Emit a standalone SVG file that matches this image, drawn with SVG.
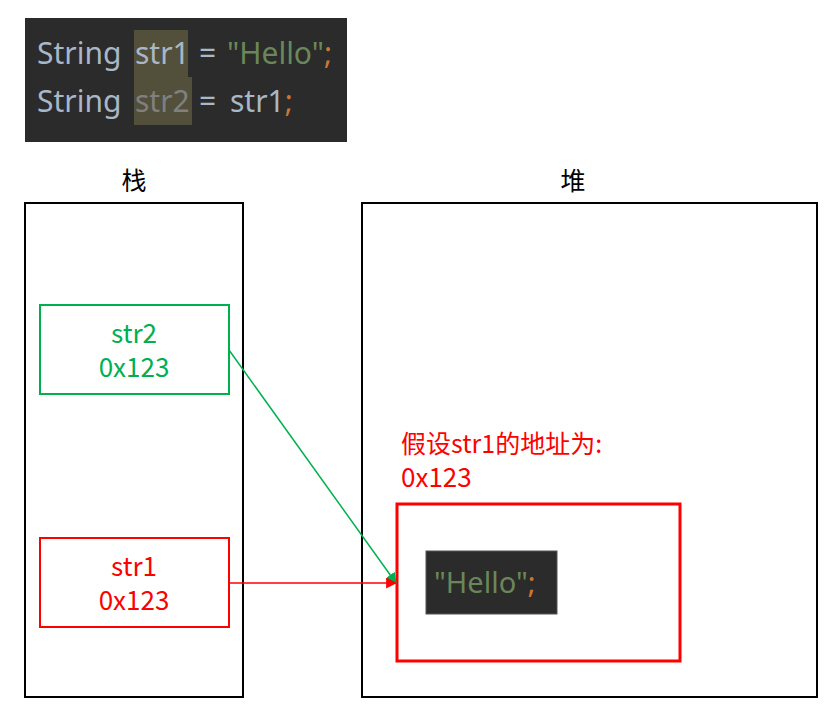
<svg xmlns="http://www.w3.org/2000/svg" width="840" height="714" viewBox="0 0 840 714">
<defs>
<style>
.code{font-family:"Noto Sans","Open Sans",sans-serif;font-size:30px}
.lbl{font-family:"Noto Sans CJK SC","Noto Sans",sans-serif;font-size:26px}
.hdr{font-family:"Noto Sans CJK SC",sans-serif;font-size:25px;fill:#000}
.frame{fill:#fff;stroke:#000;stroke-width:2}
</style>
<marker id="ag" viewBox="0 0 10 10" refX="9" refY="5" markerWidth="11" markerHeight="11" markerUnits="userSpaceOnUse" orient="auto"><path d="M0,0 L10,5 L0,10 z" fill="#00b050"/></marker>
<marker id="ar" viewBox="0 0 10 10" refX="9" refY="5" markerWidth="11" markerHeight="11" markerUnits="userSpaceOnUse" orient="auto"><path d="M0,0 L10,5 L0,10 z" fill="#ff0000"/></marker>
</defs>
<rect width="840" height="714" fill="#fff"/>
<g id="code">
<rect x="25" y="18" width="322" height="124" fill="#2b2b2b"/>
<rect x="134" y="30" width="54" height="48" fill="#52503a"/>
<rect x="134" y="77" width="58" height="48" fill="#52503a"/>
<text class="code" y="64"><tspan x="37" fill="#a9b7c6">String</tspan><tspan x="135" fill="#a9b7c6">str1</tspan><tspan x="199" fill="#a9b7c6">=</tspan><tspan x="227" fill="#6a8759">"Hello"</tspan><tspan fill="#cc7832">;</tspan></text>
<text class="code" y="112"><tspan x="37" fill="#a9b7c6">String</tspan><tspan x="135" fill="#808080">str2</tspan><tspan x="199" fill="#a9b7c6">=</tspan><tspan x="230" fill="#a9b7c6">str1</tspan><tspan fill="#cc7832">;</tspan></text>
</g>
<g id="stack">
<rect class="frame" x="25" y="203" width="218" height="494"/>
<text class="hdr" x="134" y="190" text-anchor="middle">栈</text>
</g>
<g id="heap">
<rect class="frame" x="362" y="203" width="455" height="494"/>
<text class="hdr" x="573" y="190" text-anchor="middle">堆</text>
</g>
<g id="str2">
<rect x="40" y="305" width="189" height="89" fill="none" stroke="#00b050" stroke-width="2"/>
<text class="lbl" x="134" y="343" text-anchor="middle" fill="#00b050">str2</text>
<text class="lbl" x="134" y="377" text-anchor="middle" fill="#00b050">0x123</text>
</g>
<g id="str1">
<rect x="40" y="538" width="189" height="89" fill="none" stroke="#ff0000" stroke-width="2"/>
<text class="lbl" x="134" y="576" text-anchor="middle" fill="#ff0000">str1</text>
<text class="lbl" x="134" y="610" text-anchor="middle" fill="#ff0000">0x123</text>
</g>
<g id="heapobj">
<text class="lbl" x="401" y="453" fill="#ff0000" style="font-size:25px">假设str1的地址为:</text>
<text class="lbl" x="401" y="487" fill="#ff0000">0x123</text>
<rect x="397" y="504" width="283" height="157" fill="none" stroke="#ff0000" stroke-width="3"/>
<rect x="426" y="551" width="131" height="63" fill="#2b2b2b" stroke="#555" stroke-width="1"/>
<text class="code" y="593" style="font-size:29px"><tspan x="434" fill="#6a8759">"Hello"</tspan><tspan fill="#cc7832">;</tspan></text>
</g>
<g id="connectors">
<line x1="229" y1="350" x2="396" y2="583" stroke="#00b050" stroke-width="1.5" marker-end="url(#ag)"/>
<line x1="229" y1="583" x2="396" y2="583" stroke="#ff0000" stroke-width="1.5" marker-end="url(#ar)"/>
</g>
</svg>
